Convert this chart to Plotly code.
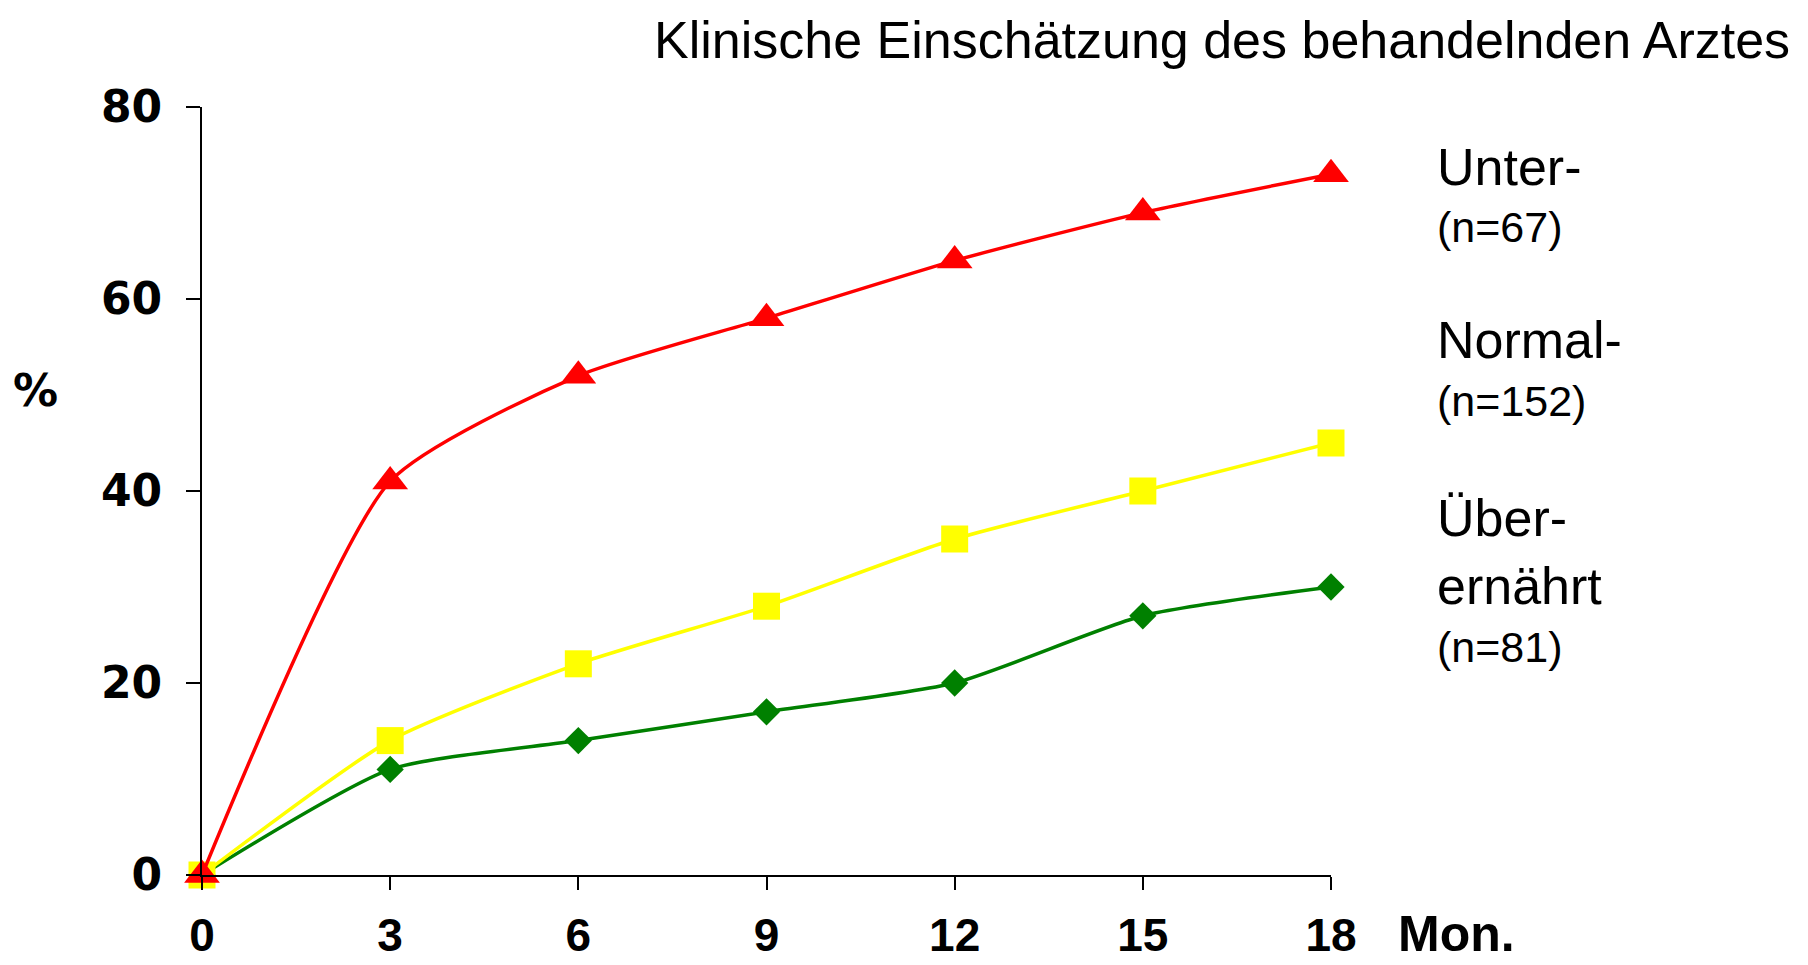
import plotly.graph_objects as go

months = [0, 3, 6, 9, 12, 15, 18]
x_tick_labels = ["0", "3", "6", "9", "12", "15", "18"]
y_ticks = [0, 20, 40, 60, 80]

unter = [0, 41, 52, 58, 64, 69, 73]
normal = [0, 14, 22, 28, 35, 40, 45]
ueber = [0, 11, 14, 17, 20, 27, 30]

OFF = 8  # page body margin
W, H = 1808 - OFF, 965 - OFF
L, R, T, B = 202 - OFF, 1331 - OFF, 107 - OFF, 875 - OFF  # plot area in figure px


def px(xs):
    return (xs - OFF - L) / (R - L)


def py(ys):
    return (B - (ys - OFF)) / (B - T)


fig = go.Figure()

series = [
    ("Über", ueber, "#008000", "diamond", 21),
    ("Normal", normal, "#FFFF00", "square", 27),
    ("Unter", unter, "#FF0000", "triangle-up", 31),
]
for name, vals, col, sym, sz in series:
    fig.add_trace(go.Scatter(
        x=months, y=vals, name=name, mode="lines+markers",
        line=dict(color=col, width=3.5, shape="spline", smoothing=0.6),
        marker=dict(symbol=sym, size=sz, color=col, line=dict(width=0)),
        cliponaxis=False, showlegend=False,
    ))

fig.update_xaxes(
    range=[0, 18], tickvals=months, ticktext=x_tick_labels,
    showline=True, linecolor="black", linewidth=2,
    ticks="outside", ticklen=13, tickwidth=2, tickcolor="black",
    showgrid=False, zeroline=False, automargin=False,
    tickfont=dict(family="Liberation Sans", size=46, color="black", weight="bold"),
    ticklabelstandoff=6,
)
fig.update_yaxes(
    range=[0, 80], tickvals=y_ticks,
    showline=True, linecolor="black", linewidth=2,
    ticks="outside", ticklen=14, tickwidth=2, tickcolor="black",
    showgrid=False, zeroline=False, automargin=False,
    tickfont=dict(family="DejaVu Sans", size=44, color="black", weight="bold"),
    ticklabelstandoff=15,
)

ann = []
ann.append(dict(text="Klinische Einschätzung des behandelnden Arztes",
                x=px(1792), y=py(40), xanchor="right", yanchor="middle",
                font=dict(family="Liberation Sans", size=52, color="black")))
ann.append(dict(text="%", x=px(35), y=py(390), xanchor="center", yanchor="middle",
                font=dict(family="DejaVu Sans", size=45, color="black", weight="bold")))
ann.append(dict(text="Mon.", x=px(1396), y=py(934), xanchor="left", yanchor="middle",
                font=dict(family="Liberation Sans", size=50, color="black", weight="bold")))

labels = [
    ("Unter-", 167, 52), ("(n=67)", 227, 43),
    ("Normal-", 340, 52), ("(n=152)", 401, 43),
    ("Über-", 518, 52), ("ernährt", 586, 52), ("(n=81)", 647, 43),
]
for txt, yy, fs in labels:
    ann.append(dict(text=txt, x=px(1435), y=py(yy), xanchor="left", yanchor="middle",
                    font=dict(family="Liberation Sans", size=fs, color="black")))

for a in ann:
    a.update(xref="paper", yref="paper", showarrow=False)

fig.update_layout(
    width=W, height=H,
    margin=dict(l=L, r=W - R, t=T, b=H - B, pad=0, autoexpand=False),
    paper_bgcolor="white", plot_bgcolor="white",
    annotations=ann,
)

fig.write_html("out.html")
